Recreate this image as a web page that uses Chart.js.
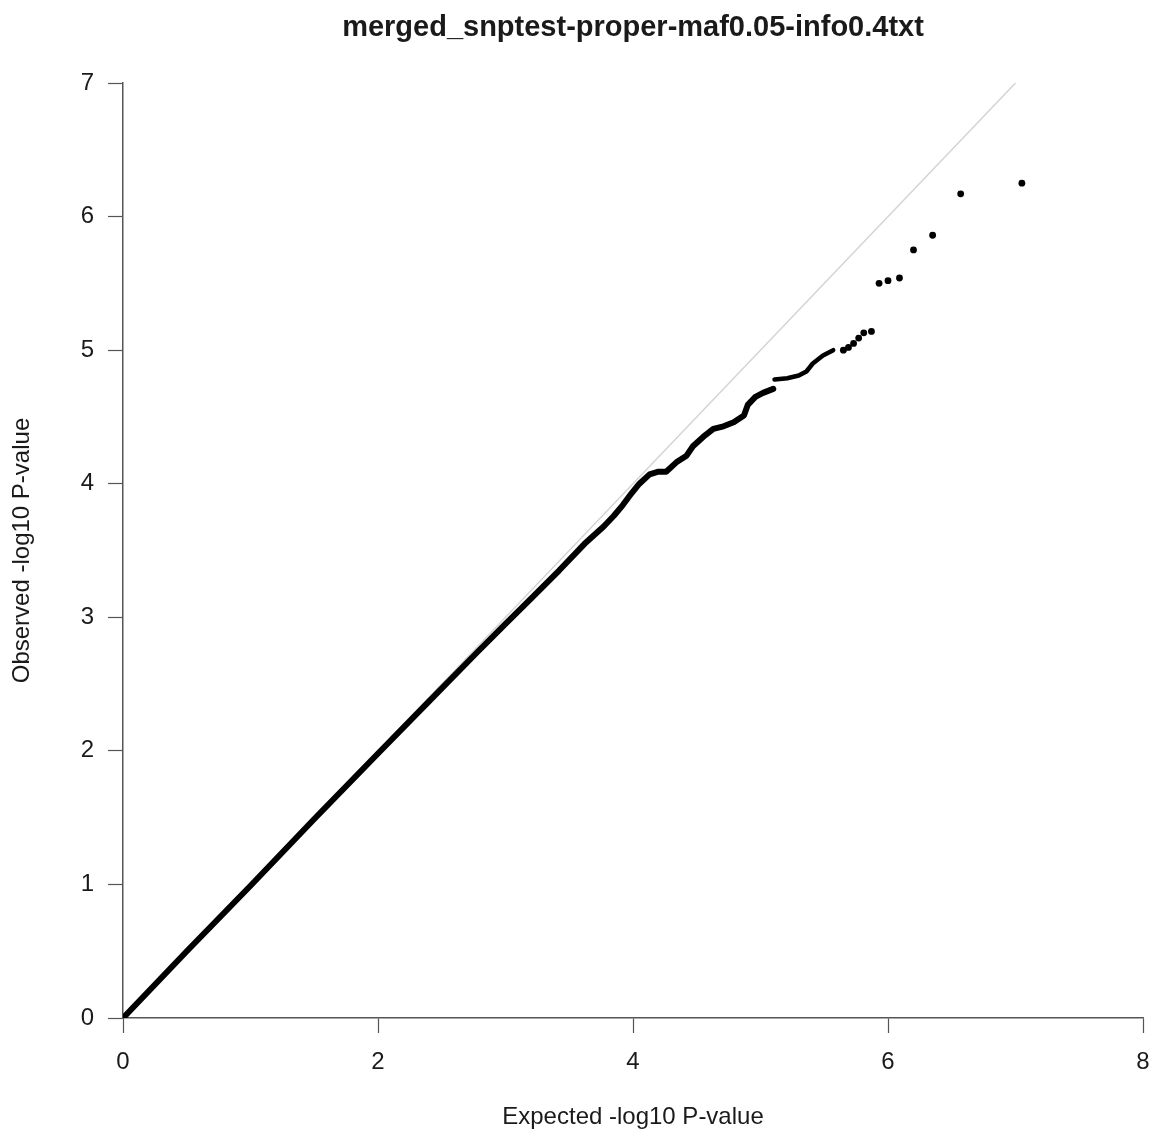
<!DOCTYPE html>
<html>
<head>
<meta charset="utf-8">
<title>QQ plot</title>
<script src="https://cdn.jsdelivr.net/npm/chart.js@4.4.1/dist/chart.umd.min.js"></script>
<style>
    html, body { margin: 0; padding: 0; background: #ffffff; }
    #wrap { width: 1158px; height: 1137px; }
</style>
</head>
<body>
<div id="wrap"><canvas id="qq-chart" width="1158" height="1137"></canvas></div>
<script>
// QQ plot of SNPTEST p-values: expected vs observed -log10 P

const TITLE = 'merged_snptest-proper-maf0.05-info0.4txt';
const X_LABEL = 'Expected -log10 P-value';
const Y_LABEL = 'Observed -log10 P-value';

const X_TICKS = [0, 2, 4, 6, 8];
const Y_TICKS = [0, 1, 2, 3, 4, 5, 6, 7];

// dense bulk of the distribution (drawn as a thick trace)
const expectedBulk = [0, 0.5, 1.0, 1.5, 2.0, 2.4, 2.78, 3.0, 3.2, 3.42, 3.62, 3.77, 3.85, 3.92, 3.99, 4.05, 4.13, 4.2, 4.26, 4.34, 4.42, 4.47, 4.55, 4.63, 4.71, 4.79, 4.87, 4.9, 4.96, 5.02, 5.1];
const observedBulk = [0, 0.5, 0.99, 1.49, 1.98, 2.37, 2.74, 2.95, 3.14, 3.35, 3.55, 3.68, 3.76, 3.84, 3.93, 4.0, 4.07, 4.09, 4.09, 4.16, 4.21, 4.28, 4.35, 4.41, 4.43, 4.46, 4.51, 4.59, 4.65, 4.68, 4.71];

// short run after the small jump near 5.1
const expectedUpper = [5.11, 5.21, 5.3, 5.36, 5.41, 5.49, 5.57];
const observedUpper = [4.78, 4.79, 4.81, 4.84, 4.9, 4.96, 5.0];

// individual top hits
const expectedTail = [5.65, 5.69, 5.73, 5.77, 5.81, 5.87, 5.93, 6.0, 6.09, 6.2, 6.35, 6.57, 7.05];
const observedTail = [5.0, 5.02, 5.05, 5.09, 5.13, 5.14, 5.5, 5.52, 5.54, 5.75, 5.86, 6.17, 6.25];

// y = x reference
const diagonal = [0, 7];

const AXIS_COLOR = '#555555';
const TEXT_COLOR = '#1a1a1a';
const FONT = '"Liberation Sans", Arial, sans-serif';

function toPoints(xs, ys) {
    return xs.map((x, i) => ({ x: x, y: ys[i] }));
}

const titlePlugin = {
    id: 'plotTitle',
    afterDraw(chart) {
        const ctx = chart.ctx;
        const area = chart.chartArea;
        ctx.save();
        ctx.font = 'bold 29px ' + FONT;
        ctx.fillStyle = TEXT_COLOR;
        ctx.textAlign = 'center';
        ctx.textBaseline = 'middle';
        ctx.fillText(TITLE, (area.left + area.right) / 2, 28);
        ctx.restore();
    }
};

const ctx = document.getElementById('qq-chart').getContext('2d');

new Chart(ctx, {
    type: 'scatter',
    data: {
        datasets: [
            {
                label: 'tail',
                data: toPoints(expectedTail, observedTail),
                showLine: false,
                pointRadius: 3.4,
                pointBackgroundColor: '#000000',
                pointBorderWidth: 0,
                order: 0
            },
            {
                label: 'upper',
                data: toPoints(expectedUpper, observedUpper),
                showLine: true,
                borderColor: '#000000',
                borderWidth: 4.5,
                borderCapStyle: 'round',
                borderJoinStyle: 'round',
                pointRadius: 0,
                order: 1
            },
            {
                label: 'bulk',
                data: toPoints(expectedBulk, observedBulk),
                showLine: true,
                borderColor: '#000000',
                borderWidth: 6,
                borderCapStyle: 'round',
                borderJoinStyle: 'round',
                pointRadius: 0,
                order: 2
            },
            {
                label: 'expected',
                data: toPoints(diagonal, diagonal),
                showLine: true,
                borderColor: '#d4d4d4',
                borderWidth: 1.5,
                pointRadius: 0,
                order: 3
            }
        ]
    },
    options: {
        responsive: false,
        animation: false,
        layout: { padding: { top: 83, right: 15, left: 0, bottom: 0 } },
        plugins: {
            legend: { display: false },
            tooltip: { enabled: false }
        },
        scales: {
            x: {
                type: 'linear',
                min: 0,
                max: 8,
                afterFit: (s) => {
                    s.height = 119;
                    s.paddingLeft = 0;
                    s.paddingRight = 0;
                },
                afterBuildTicks: (s) => { s.ticks = X_TICKS.map(v => ({ value: v })); },
                border: { display: true, color: AXIS_COLOR, width: 1.5 },
                grid: {
                    display: true,
                    drawOnChartArea: false,
                    drawTicks: true,
                    tickLength: 15,
                    tickColor: AXIS_COLOR,
                    tickWidth: 1.2
                },
                ticks: {
                    color: TEXT_COLOR,
                    padding: 15,
                    maxRotation: 0,
                    font: { family: FONT, size: 24 }
                },
                title: {
                    display: true,
                    text: X_LABEL,
                    color: TEXT_COLOR,
                    padding: 5,
                    font: { family: FONT, size: 24 }
                }
            },
            y: {
                type: 'linear',
                min: 0,
                max: 7,
                afterFit: (s) => { s.width = 123; },
                afterBuildTicks: (s) => { s.ticks = Y_TICKS.map(v => ({ value: v })); },
                border: { display: true, color: AXIS_COLOR, width: 1.5 },
                grid: {
                    display: true,
                    drawOnChartArea: false,
                    drawTicks: true,
                    tickLength: 15,
                    tickColor: AXIS_COLOR,
                    tickWidth: 1.2
                },
                ticks: {
                    color: TEXT_COLOR,
                    padding: 14,
                    font: { family: FONT, size: 24 }
                },
                title: {
                    display: true,
                    text: Y_LABEL,
                    color: TEXT_COLOR,
                    padding: 8,
                    font: { family: FONT, size: 24 }
                }
            }
        }
    },
    plugins: [titlePlugin]
});
</script>
</body>
</html>
